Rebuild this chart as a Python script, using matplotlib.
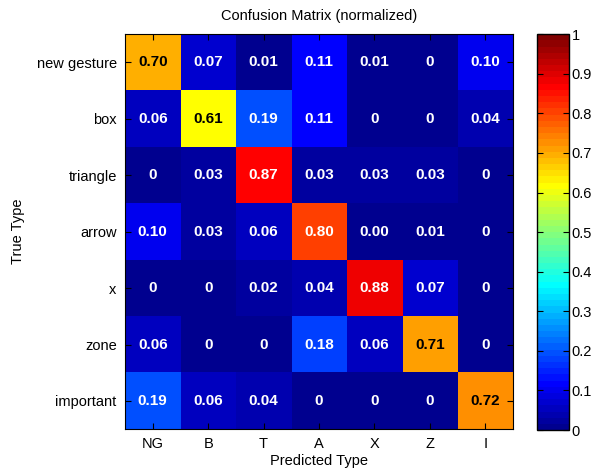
import numpy as np
import matplotlib
matplotlib.use('Agg')
import matplotlib.pyplot as plt
from matplotlib.colors import ListedColormap

true_labels = ['new gesture', 'box', 'triangle', 'arrow', 'x', 'zone', 'important']
pred_labels = ['NG', 'B', 'T', 'A', 'X', 'Z', 'I']

# rows = true type, columns = predicted type
conf = np.array([
    [0.70, 0.07, 0.01, 0.11, 0.01, 0.00, 0.10],
    [0.06, 0.61, 0.19, 0.11, 0.00, 0.00, 0.04],
    [0.00, 0.03, 0.87, 0.03, 0.03, 0.03, 0.00],
    [0.10, 0.03, 0.06, 0.80, 0.00, 0.01, 0.00],
    [0.00, 0.00, 0.02, 0.04, 0.88, 0.07, 0.00],
    [0.06, 0.00, 0.00, 0.18, 0.06, 0.71, 0.00],
    [0.19, 0.06, 0.04, 0.00, 0.00, 0.00, 0.72],
])
cell_text = [
    ['0.70', '0.07', '0.01', '0.11', '0.01', '0', '0.10'],
    ['0.06', '0.61', '0.19', '0.11', '0', '0', '0.04'],
    ['0', '0.03', '0.87', '0.03', '0.03', '0.03', '0'],
    ['0.10', '0.03', '0.06', '0.80', '0.00', '0.01', '0'],
    ['0', '0', '0.02', '0.04', '0.88', '0.07', '0'],
    ['0.06', '0', '0', '0.18', '0.06', '0.71', '0'],
    ['0.19', '0.06', '0.04', '0', '0', '0', '0.72'],
]


def matlab_jet(m=64):
    # same construction as MATLAB's jet(m)
    n = int(np.ceil(m / 4))
    u = np.concatenate([np.arange(1, n + 1) / n, np.ones(n - 1), np.arange(n, 0, -1) / n])
    g = int(np.ceil(n / 2)) - (1 if m % 4 == 1 else 0) + np.arange(1, len(u) + 1)
    r = g + n
    b = g - n
    J = np.zeros((m, 3))
    for idx, val in zip(r, u):
        if 1 <= idx <= m:
            J[idx - 1, 0] = val
    for idx, val in zip(g, u):
        if 1 <= idx <= m:
            J[idx - 1, 1] = val
    for idx, val in zip(b, u):
        if 1 <= idx <= m:
            J[idx - 1, 2] = val
    return ListedColormap(J)


plt.rcParams['font.family'] = ['Liberation Sans', 'DejaVu Sans']

fig = plt.figure(figsize=(5.98, 4.68), dpi=100)
ax = fig.add_axes([0.209, 0.083, 0.649, 0.844])
cax = fig.add_axes([0.898, 0.081, 0.053, 0.846])

im = ax.imshow(conf, cmap=matlab_jet(64), vmin=0, vmax=1, aspect='auto')

for i in range(len(true_labels)):
    for j in range(len(pred_labels)):
        v = conf[i, j]
        col = 'black' if 0.55 <= v <= 0.78 else 'white'
        ax.text(j, i, cell_text[i][j], ha='center', va='center',
                color=col, fontsize=11, fontweight='bold')

ax.set_xticks(range(len(pred_labels)))
ax.set_xticklabels(pred_labels, fontsize=10.5)
ax.set_yticks(range(len(true_labels)))
ax.set_yticklabels(true_labels, fontsize=10.5)
ax.tick_params(direction='in', top=True, right=True, length=4, pad=6)
ax.set_xlabel('Predicted Type', fontsize=10.5, labelpad=2)
ax.set_ylabel('True Type', fontsize=10.5, labelpad=8)
ax.set_title('Confusion Matrix (normalized)', fontsize=10.5, pad=10)

cb = fig.colorbar(im, cax=cax, ticks=np.arange(0, 1.01, 0.1))
cb.ax.set_yticklabels(['0', '0.1', '0.2', '0.3', '0.4', '0.5', '0.6', '0.7', '0.8', '0.9', '1'])
cb.ax.tick_params(direction='in', left=True, right=True, length=4, labelsize=10.5, pad=2)
cb.outline.set_linewidth(1)

fig.savefig('out.png', dpi=100)
